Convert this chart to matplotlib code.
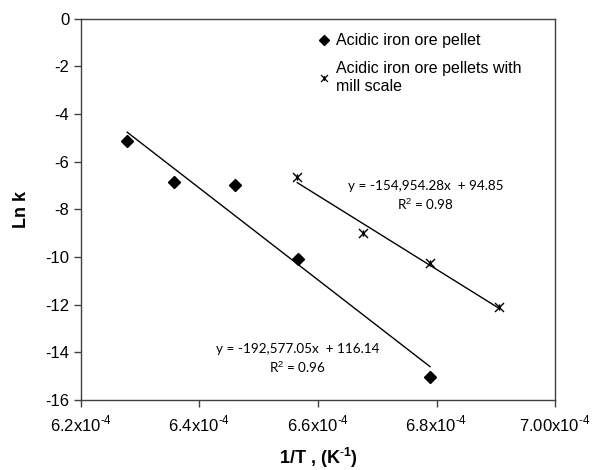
import matplotlib
matplotlib.use("Agg")
import matplotlib.pyplot as plt
import numpy as np
from matplotlib.path import Path
from matplotlib.lines import Line2D

# Arrhenius data (1/T in K^-1, ln k)
inv_t_plain = [6.278e-4, 6.357e-4, 6.460e-4, 6.566e-4, 6.789e-4]
lnk_plain = [-5.13, -6.85, -6.98, -10.08, -15.04]
inv_t_mill = [6.565e-4, 6.676e-4, 6.789e-4, 6.905e-4]
lnk_mill = [-6.64, -8.99, -10.25, -12.10]

# trendline coefficients as printed on the chart
fit_plain = (-192577.05, 116.14)
fit_mill = (-154954.28, 94.85)

x_ticks = [6.2e-4, 6.4e-4, 6.6e-4, 6.8e-4, 7.0e-4]
x_tick_labels = ["6.2x10$^{\\text{-}4}$", "6.4x10$^{\\text{-}4}$", "6.6x10$^{\\text{-}4}$",
                 "6.8x10$^{\\text{-}4}$", "7.00x10$^{\\text{-}4}$"]
y_ticks = [0, -2, -4, -6, -8, -10, -12, -14, -16]

plt.rcParams["font.family"] = ["Liberation Sans", "DejaVu Sans"]
plt.rcParams["mathtext.fontset"] = "custom"
plt.rcParams["mathtext.rm"] = "Liberation Sans"
plt.rcParams["mathtext.bf"] = "Liberation Sans:bold"
plt.rcParams["axes.unicode_minus"] = False
SPINE = "#404040"

# Excel-style "star" marker: an x with a vertical bar through it
star = Path([(-1, -1), (1, 1), (-1, 1), (1, -1), (0, -0.7), (0, 0.7)],
            [Path.MOVETO, Path.LINETO, Path.MOVETO, Path.LINETO, Path.MOVETO, Path.LINETO])

fig = plt.figure(figsize=(6.04, 4.70), dpi=100)
ax = fig.add_axes([0.134, 0.149, 0.785, 0.811])

ax.plot(inv_t_plain, lnk_plain, ls="none", marker="D", ms=6.5, color="black")
ax.plot(inv_t_mill, lnk_mill, ls="none", marker=star, ms=6.5, mew=1.0,
        color="black", mfc="none")

for xs, (m, b) in ((inv_t_plain, fit_plain), (inv_t_mill, fit_mill)):
    xx = np.array([min(xs), max(xs)])
    ax.plot(xx, m * xx + b, color="black", lw=1.0)

ax.text(6.782e-4, -7.45, "y = -154,954.28x  + 94.85\nR$^2$ = 0.98",
        ha="center", va="center", fontsize=9.7, family="Lato", linespacing=1.35)
ax.text(6.565e-4, -14.27, "y = -192,577.05x  + 116.14\nR$^2$ = 0.96",
        ha="center", va="center", fontsize=9.7, family="Lato", linespacing=1.35)

ax.set_xlim(6.2e-4, 7.0e-4)
ax.set_ylim(-16, 0)
ax.set_xticks(x_ticks)
ax.set_xticklabels(x_tick_labels)
ax.set_yticks(y_ticks)
ax.tick_params(direction="out", length=5, width=1, color=SPINE, labelsize=12,
               top=False, right=False)
ax.tick_params(axis="x", pad=5)
for s in ax.spines.values():
    s.set_color(SPINE)
    s.set_linewidth(1.0)

ax.set_xlabel("1/T , (K$^{\\mathbf{\\text{-}1}}$)", fontsize=13, fontweight="bold", labelpad=8)
ax.set_ylabel("Ln k", fontsize=13, fontweight="bold", labelpad=11)

handles = [
    Line2D([], [], ls="none", marker="D", ms=5, color="black"),
    Line2D([], [], ls="none", marker=star, ms=5, mew=0.9, color="black"),
]
leg = ax.legend(handles, ["Acidic iron ore pellet", "Acidic iron ore pellets with\nmill scale"],
                loc="upper left", bbox_to_anchor=(0.472, 1.0), frameon=False,
                fontsize=11.5, handlelength=0.6, handletextpad=0.45, labelspacing=0.8)
for t in leg.get_texts():
    t.set_linespacing(1.25)

fig.savefig("out.png", dpi=100)
